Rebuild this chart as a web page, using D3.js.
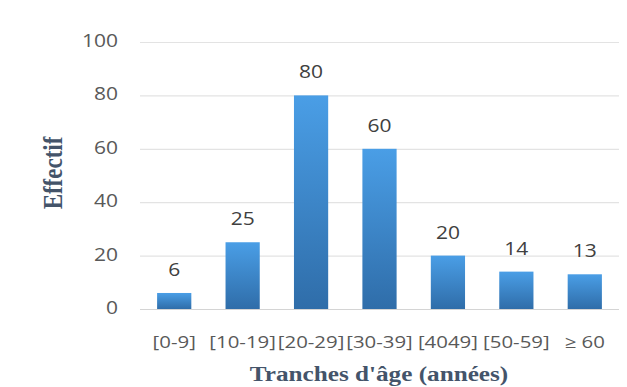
<!DOCTYPE html>
<html>
<head>
<meta charset="utf-8">
<script src="https://cdn.jsdelivr.net/npm/d3@7"></script>
<style>
  html, body { margin: 0; padding: 0; background: #fff; }
  svg { display: block; }
</style>
</head>
<body>
<svg id="chart" width="627" height="387"></svg>
<script>
// Age groups and head counts
const categories = ["[0-9]", "[10-19]", "[20-29]", "[30-39]", "[4049]", "[50-59]", "≥ 60"];
const values = [6, 25, 80, 60, 20, 14, 13];
const yTicks = [0, 20, 40, 60, 80, 100];
const xTitle = "Tranches d'âge (années)";
const yTitle = "Effectif";

const W = 627, H = 387;
const plot = { left: 140, right: 619, top: 42, bottom: 309 };
const sx = 1.2; // horizontal widening of all labels

const svg = d3.select("#chart");

const x = d3.scaleBand()
  .domain(categories)
  .range([plot.left, plot.right])
  .paddingInner(0.5)
  .paddingOuter(0.25);

const y = d3.scaleLinear()
  .domain([0, 100])
  .range([plot.bottom, plot.top]);

// Vertical gradient for the bars
const defs = svg.append("defs");
const grad = defs.append("linearGradient")
  .attr("id", "barGrad")
  .attr("x1", 0).attr("y1", 0).attr("x2", 0).attr("y2", 1);
grad.append("stop").attr("offset", "0%").attr("stop-color", "#4a9ee6");
grad.append("stop").attr("offset", "100%").attr("stop-color", "#2f6da9");

const labelFont = "'Open Sans', sans-serif";
const titleFont = "'Liberation Serif', 'Times New Roman', serif";
const stretch = (px, py) => `translate(${px},${py}) scale(${sx},1)`;

// Horizontal gridlines
const yAxis = d3.axisLeft(y).tickValues(yTicks).tickSize(-(plot.right - plot.left)).tickFormat("");
const gy = svg.append("g").attr("transform", `translate(${plot.left},0)`).call(yAxis);
gy.select(".domain").remove();
gy.selectAll(".tick line")
  .attr("stroke", d => d === 0 ? "#d4d4d4" : "#e3e3e3")
  .attr("stroke-width", 1.2);

// Y tick labels
svg.append("g").selectAll("text")
  .data(yTicks)
  .join("text")
  .attr("transform", d => stretch(118, y(d) + 5))
  .attr("text-anchor", "end")
  .attr("font-family", labelFont)
  .attr("font-size", 17.5)
  .attr("fill", "#595959")
  .text(d => d);

// Bars
svg.append("g").selectAll("rect")
  .data(values)
  .join("rect")
  .attr("x", (d, i) => x(categories[i]))
  .attr("y", d => y(d))
  .attr("width", x.bandwidth())
  .attr("height", d => y(0) - y(d))
  .attr("fill", "url(#barGrad)");

// Value labels above bars
svg.append("g").selectAll("text")
  .data(values)
  .join("text")
  .attr("transform", (d, i) => stretch(x(categories[i]) + x.bandwidth() / 2, y(d) - 17))
  .attr("text-anchor", "middle")
  .attr("font-family", labelFont)
  .attr("font-size", 17.5)
  .attr("fill", "#404040")
  .text(d => d);

// X category labels
svg.append("g").selectAll("text")
  .data(categories)
  .join("text")
  .attr("transform", d => stretch(x(d) + x.bandwidth() / 2, 348))
  .attr("text-anchor", "middle")
  .attr("font-family", labelFont)
  .attr("font-size", 17)
  .attr("fill", "#595959")
  .text(d => d);

// Axis titles
svg.append("text")
  .attr("transform", stretch(379, 381))
  .attr("text-anchor", "middle")
  .attr("font-family", titleFont)
  .attr("font-weight", "bold")
  .attr("font-size", 21)
  .attr("fill", "#44546a")
  .text(xTitle);

svg.append("text")
  .attr("transform", `translate(62,173) scale(${sx},1) rotate(-90)`)
  .attr("text-anchor", "middle")
  .attr("font-family", titleFont)
  .attr("font-weight", "bold")
  .attr("font-size", 23)
  .attr("fill", "#44546a")
  .text(yTitle);
</script>
</body>
</html>
